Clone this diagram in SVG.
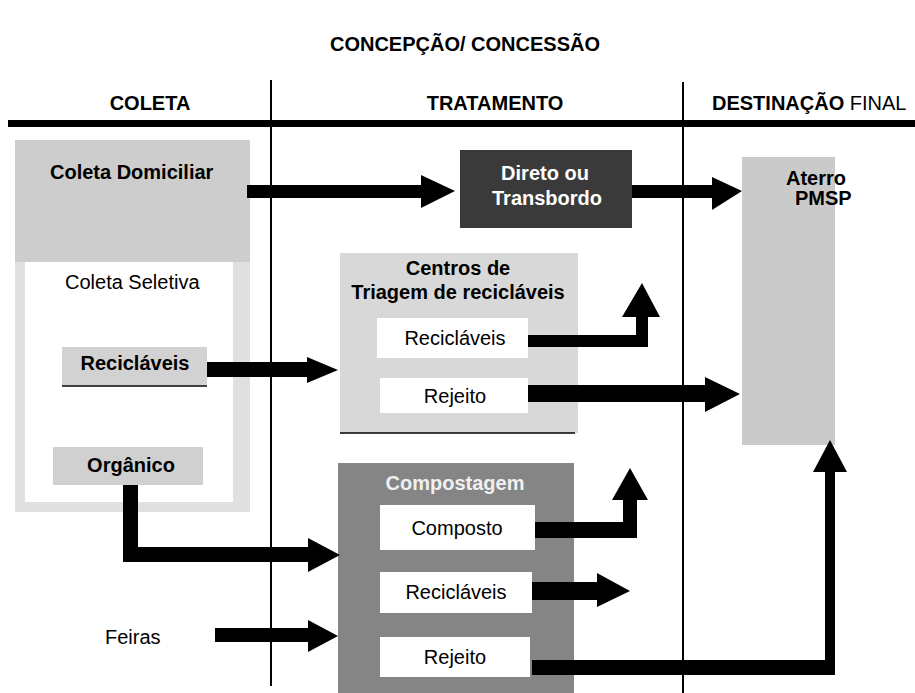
<svg xmlns="http://www.w3.org/2000/svg" width="915" height="693" viewBox="0 0 915 693">
<style>
text{font-family:"Liberation Sans",Arial,sans-serif;font-size:20px;fill:#000;}
.b{font-weight:bold;}
.c{text-anchor:middle;}
.w{fill:#fff;}
.lt{fill:#e6e6e6;}
.box{fill:#fff;}
.arr{fill:#000;stroke:none;}
.vl{stroke:#000;stroke-width:2;}
</style>
<rect x="0" y="0" width="915" height="693" fill="#fff"/>

<g id="header">
<text class="b c" x="465" y="51">CONCEPÇÃO/ CONCESSÃO</text>
<text class="b c" x="150" y="110">COLETA</text>
<text class="b c" x="495" y="110">TRATAMENTO</text>
<text x="712" y="110"><tspan class="b">DESTINAÇÃO</tspan> FINAL</text>
<rect x="8" y="120" width="907" height="7" fill="#000"/>
<line class="vl" x1="271" y1="80" x2="271" y2="686"/>
<line class="vl" x1="683" y1="82" x2="683" y2="693"/>
</g>

<g id="coleta-domiciliar">
<rect x="15" y="140" width="235" height="372" fill="#e0e0e0"/>
<rect x="15" y="140" width="235" height="122" fill="#cdcdcd"/>
<text class="b" x="50" y="179">Coleta Domiciliar</text>
</g>

<g id="coleta-seletiva">
<rect x="25" y="262" width="208" height="240" fill="#fff"/>
<text x="65" y="289">Coleta Seletiva</text>
</g>

<g id="coleta-reciclaveis">
<rect x="62" y="347" width="145" height="38" fill="#d2d2d2"/>
<line x1="62" y1="386" x2="207" y2="386" stroke="#000" stroke-width="1.5"/>
<text class="b c" x="135" y="370">Recicláveis</text>
</g>

<g id="organico">
<rect x="53" y="447" width="150" height="38" fill="#d0d0d0"/>
<text class="b c" x="131" y="472">Orgânico</text>
</g>

<g id="feiras">
<text x="105" y="644">Feiras</text>
</g>

<g id="direto-transbordo">
<rect x="460" y="150" width="172" height="78" fill="#3a3a3a"/>
<text class="b c w" x="545" y="180">Direto ou</text>
<text class="b c w" x="547" y="205">Transbordo</text>
</g>

<g id="centros-triagem">
<rect x="340" y="253" width="238" height="180" fill="#d8d8d8"/>
<line x1="340" y1="433" x2="575" y2="433" stroke="#000" stroke-width="1.5"/>
<text class="b c" x="458" y="275">Centros de</text>
<text class="b c" x="458" y="299">Triagem de recicláveis</text>
<g id="centros-reciclaveis">
<rect class="box" x="377" y="318" width="151" height="40"/>
<text class="c" x="455" y="345">Recicláveis</text>
</g>
<g id="centros-rejeito">
<rect class="box" x="380" y="378" width="148" height="35"/>
<text class="c" x="455" y="403">Rejeito</text>
</g>
</g>

<g id="compostagem">
<rect x="338" y="463" width="236" height="230" fill="#858585"/>
<text class="b c" x="455" y="490" fill="#f0f0f0" style="fill:#f0f0f0">Compostagem</text>
<g id="composto">
<rect class="box" x="380" y="505" width="155" height="45"/>
<text class="c" x="457" y="535">Composto</text>
</g>
<g id="compost-reciclaveis">
<rect class="box" x="380" y="572" width="152" height="41"/>
<text class="c" x="456" y="599">Recicláveis</text>
</g>
<g id="compost-rejeito">
<rect class="box" x="380" y="637" width="150" height="40"/>
<text class="c" x="455" y="664">Rejeito</text>
</g>
</g>

<g id="aterro">
<rect x="742" y="157" width="93" height="288" fill="#cacaca"/>
<text class="b" x="786" y="185">Aterro</text>
<text class="b" x="795" y="205">PMSP</text>
</g>

<g id="connectors">
<polygon class="arr" points="247,185 421,185 421,175 455,191 421,208 421,198 247,198"/>
<polygon class="arr" points="632,185 712,185 712,177 742,191 712,210 712,198 632,198"/>
<polygon class="arr" points="207,362 307,362 307,357 338,370 307,383 307,377 207,377"/>
<polygon class="arr" points="528,335 636,335 636,317 622,317 642,283 660,317 648,317 648,347 528,347"/>
<polygon class="arr" points="528,385 705,385 705,377 740,394 705,412 705,402 528,402"/>
<polygon class="arr" points="123,485 138,485 138,547 308,547 308,538 340,555 308,572 308,562 123,562"/>
<polygon class="arr" points="215,628 308,628 308,620 338,636 308,652 308,642 215,642"/>
<polygon class="arr" points="535,522 623,522 623,500 612,500 630,468 648,500 637,500 637,538 535,538"/>
<polygon class="arr" points="532,582 597,582 597,573 630,591 597,607 597,600 532,600"/>
<polygon class="arr" points="532,660 825,660 825,472 813,472 830,440 847,472 835,472 835,675 532,675"/>
</g>
</svg>
